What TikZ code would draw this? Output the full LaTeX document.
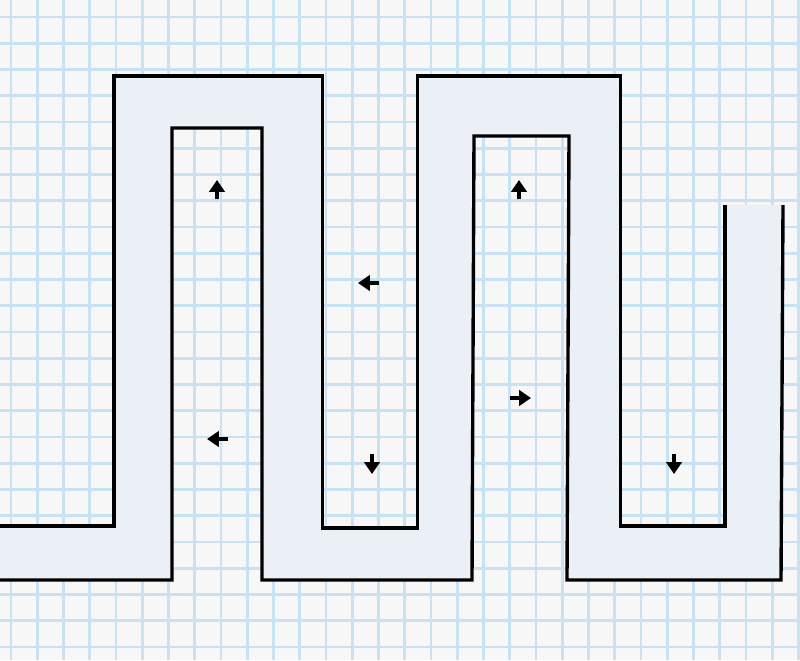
\documentclass[tikz,border=0pt]{standalone}
\usepackage{xcolor}
\usepackage{tikz}
\usetikzlibrary{arrows.meta}
\definecolor{paper}{RGB}{247,247,248}
\definecolor{gridblue}{RGB}{198,226,243}
\definecolor{hall}{RGB}{234,240,246}

\begin{document}
\begin{tikzpicture}[x=0.025cm, y=-0.025cm,
  wall/.style={line width=2.4pt, line join=miter},
  flow/.style={line width=2.2pt, -{Triangle[length=8.5pt, width=11pt]}}]
% paper
\fill[paper] (0,0) rectangle (800,660);
\useasboundingbox (0,0) rectangle (800,660);
% grid
\foreach \i in {0,...,30}
  \draw[gridblue, line width=1.9pt] ({11+26.25*\i},0) -- ({11+26.25*\i},660);
\foreach \j in {0,...,24}
  \draw[gridblue, line width=1.9pt] (0,{17+26.25*\j}) -- (800,{17+26.25*\j});
% corridor (upper wall, then lower wall reversed)
\fill[hall] (0,526) -- (114,526) -- (114,76) -- (322.5,76) -- (322.5,528)
  -- (417.5,528) -- (417.5,76) -- (620.5,76) -- (620.5,526) -- (725,526)
  -- (725,205) -- (783,205) -- (781,580) -- (567,580) -- (569,136)
  -- (474,136) -- (472,580) -- (262,580) -- (262,128) -- (172,128)
  -- (172,580) -- (0,580) -- cycle;
% walls
\draw[wall] (0,526) -- (114,526) -- (114,76) -- (322.5,76) -- (322.5,528)
  -- (417.5,528) -- (417.5,76) -- (620.5,76) -- (620.5,526) -- (725,526)
  -- (725,205);
\draw[wall] (0,580) -- (172,580) -- (172,128) -- (262,128) -- (262,580)
  -- (472,580) -- (474,136) -- (569,136) -- (567,580) -- (781,580)
  -- (783,205);
% flow arrows
\draw[flow] (217,199) -- (217,180);
\draw[flow] (519,199) -- (519,180);
\draw[flow] (379,283) -- (358,283);
\draw[flow] (228,439) -- (207,439);
\draw[flow] (510,398) -- (531,398);
\draw[flow] (372,454) -- (372,474);
\draw[flow] (674,454) -- (674,474);
\end{tikzpicture}
\end{document}
